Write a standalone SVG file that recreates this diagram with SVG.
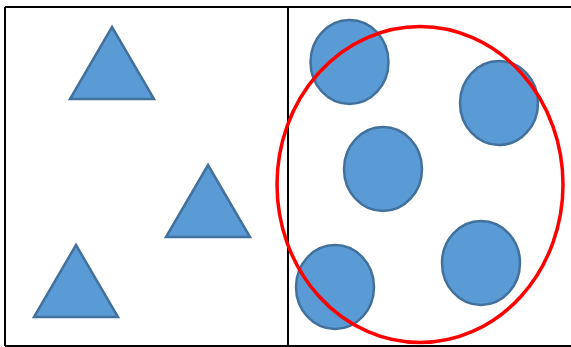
<svg xmlns="http://www.w3.org/2000/svg" width="571" height="347" viewBox="0 0 571 347">
<style>
.frame{fill:none;stroke:#000;stroke-width:2}
.shape{fill:#5b9bd5;stroke:#41719c;stroke-width:2.5}
.ring{fill:none;stroke:#ff0000;stroke-width:3.5}
</style>
<rect width="571" height="347" fill="#fff"/>
<g id="frame">
<line class="frame" x1="5" y1="7" x2="571" y2="7"/>
<line class="frame" x1="5" y1="7" x2="5" y2="346"/>
<line class="frame" x1="5" y1="346" x2="571" y2="346"/>
<line class="frame" x1="288" y1="7" x2="288" y2="346"/>
</g>
<g id="tri1"><polygon class="shape" points="112,27 154,99 70,99"/></g>
<g id="tri2"><polygon class="shape" points="208,165 250,237 166,237"/></g>
<g id="tri3"><polygon class="shape" points="76,245 118,317 34,317"/></g>
<g id="circ1"><ellipse class="shape" cx="349.5" cy="62" rx="39" ry="42"/></g>
<g id="circ2"><ellipse class="shape" cx="499" cy="103" rx="39" ry="42"/></g>
<g id="circ3"><ellipse class="shape" cx="383" cy="169" rx="39" ry="42"/></g>
<g id="circ4"><ellipse class="shape" cx="335" cy="287" rx="39" ry="42"/></g>
<g id="circ5"><ellipse class="shape" cx="481" cy="263" rx="39" ry="42"/></g>
<g id="ring"><ellipse class="ring" cx="420" cy="184.5" rx="143" ry="158"/></g>
</svg>
